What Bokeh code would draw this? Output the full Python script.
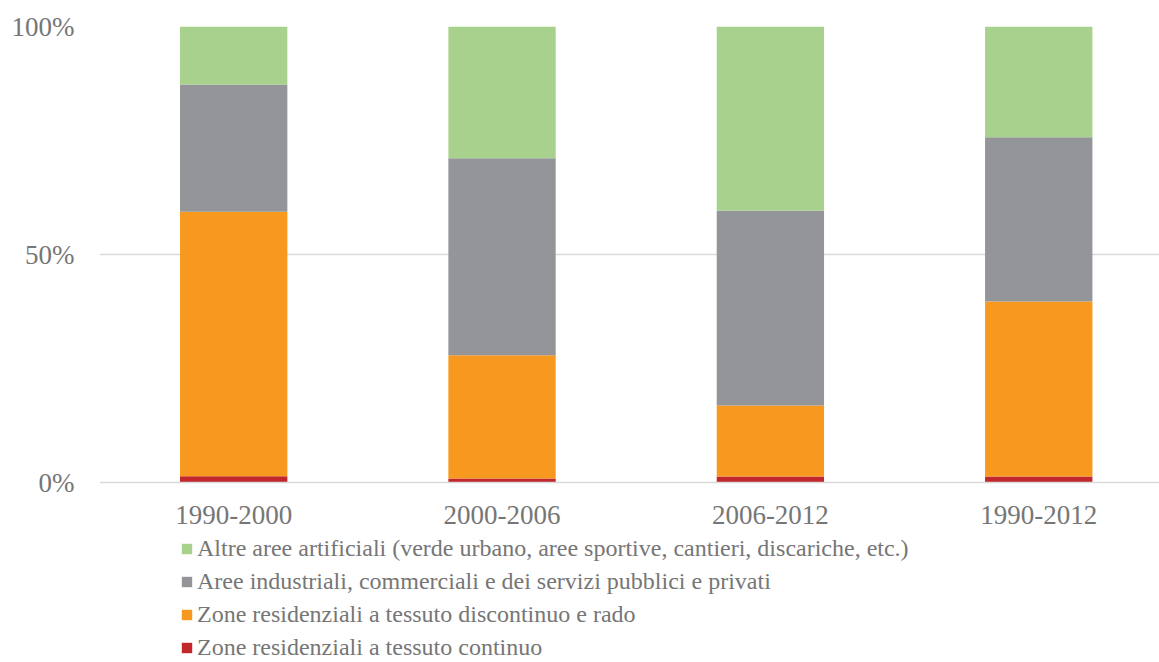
from bokeh.plotting import figure
from bokeh.models import (Range1d, FixedTicker, NumeralTickFormatter, Legend, LegendItem,
                          ColumnDataSource)
from bokeh.embed import file_html
from bokeh.resources import INLINE

periods = ["1990-2000", "2000-2006", "2006-2012", "1990-2012"]
continuo = [1.4, 0.9, 1.3, 1.3]
discontinuo = [58.0, 27.0, 15.6, 38.4]
industriali = [27.9, 43.2, 42.7, 36.0]
altre = [12.7, 28.9, 40.4, 24.3]

series_names = [
    "Zone residenziali a tessuto continuo",
    "Zone residenziali a tessuto discontinuo e rado",
    "Aree industriali, commerciali e dei servizi pubblici e privati",
    "Altre aree artificiali (verde urbano, aree sportive, cantieri, discariche, etc.)",
]
colors = ["#C1272D", "#F7991F", "#939598", "#A9D18E"]

FONT = "Liberation Serif"
TXT = "#767676"

xs = [i + 0.5 for i in range(len(periods))]
series = [continuo, discontinuo, industriali, altre]
keys = ["continuo", "discontinuo", "industriali", "altre"]
totals = [sum(s[i] for s in series) for i in range(len(periods))]
data = {"x": xs}
for k, s in zip(keys, series):
    data[k] = [v / t for v, t in zip(s, totals)]
src = ColumnDataSource(data)

p = figure(width=1159, height=662, output_backend="svg", toolbar_location=None,
           x_range=Range1d(0, 3.950), y_range=Range1d(-0.3947, 1))
p.min_border_left = 99
p.min_border_right = 0
p.min_border_top = 26
p.min_border_bottom = 0
p.outline_line_color = None
p.background_fill_color = "white"

renderers = p.vbar_stack(keys, x="x", width=0.4, source=src, color=colors,
                         line_color=None)

p.xgrid.grid_line_color = None
p.ygrid.grid_line_color = "#D9D9D9"
p.ygrid.grid_line_width = 1.5
p.ygrid.ticker = FixedTicker(ticks=[0.5, 1])

p.yaxis.ticker = FixedTicker(ticks=[0, 0.5, 1])
p.yaxis.formatter = NumeralTickFormatter(format="0%")
p.yaxis.axis_line_color = None
p.yaxis.major_tick_line_color = None
p.yaxis.minor_tick_line_color = None
p.yaxis.major_label_text_font = FONT
p.yaxis.major_label_text_font_size = "27px"
p.yaxis.major_label_text_color = TXT
p.yaxis.major_label_standoff = 19

p.xaxis.fixed_location = 0
p.xaxis.ticker = FixedTicker(ticks=xs)
p.xaxis.major_label_overrides = {x: lab for x, lab in zip(xs, periods)}
p.xaxis.axis_line_color = "#D9D9D9"
p.xaxis.axis_line_width = 1.5
p.xaxis.major_tick_line_color = None
p.xaxis.minor_tick_line_color = None
p.xaxis.major_label_text_font = FONT
p.xaxis.major_label_text_font_size = "27px"
p.xaxis.major_label_text_color = TXT
p.xaxis.major_label_standoff = 17

items = [LegendItem(label=series_names[i], renderers=[renderers[i]]) for i in [3, 2, 1, 0]]
legend = Legend(items=items, orientation="vertical", location=(81, 1))
legend.label_text_font = FONT
legend.label_text_font_size = "24px"
legend.label_text_color = TXT
legend.glyph_width = 13
legend.glyph_height = 13
legend.label_standoff = 4
legend.label_height = 24
legend.spacing = 6
legend.padding = 0
legend.margin = 0
legend.border_line_color = None
legend.background_fill_alpha = 0
p.add_layout(legend, "center")

open("out.html", "w").write(file_html(p, INLINE))
